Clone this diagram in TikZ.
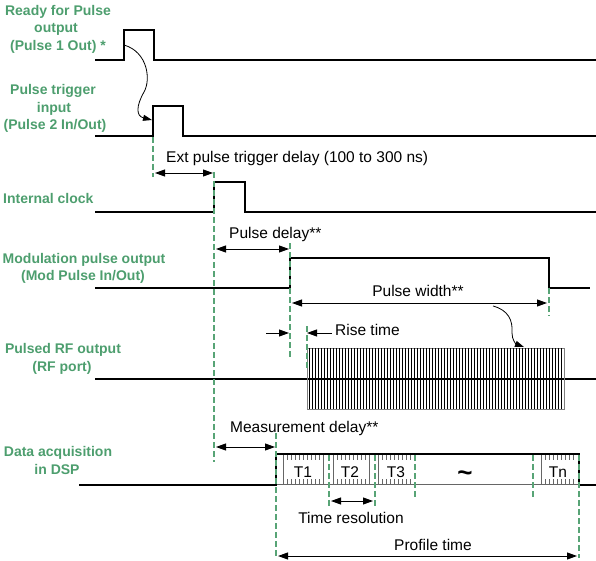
\documentclass[tikz,border=0pt]{standalone}
\usepackage{fontspec}
\setmainfont{Liberation Sans}
\usetikzlibrary{arrows.meta}
\definecolor{lblgreen}{RGB}{77,158,110}
\definecolor{dashgreen}{RGB}{88,164,118}
\tikzset{
  sig/.style={line width=2pt, line join=miter},
  gdash/.style={draw=dashgreen, line width=2.2pt, dash pattern=on 6pt off 3pt},
  dimline/.style={line width=0.9pt, {Triangle[length=10pt,width=7pt]}-{Triangle[length=10pt,width=7pt]}},
  onehead/.style={line width=0.9pt, -{Triangle[length=10pt,width=7pt]}},
  curvearrow/.style={line width=0.8pt, -{Triangle[length=9pt,width=6pt]}},
  glab/.style={anchor=base, text=lblgreen, font=\fontsize{14}{17}\selectfont\bfseries, inner sep=0pt},
  blab/.style={anchor=base west, font=\fontsize{15.5}{18}\selectfont, inner sep=0pt},
  bclab/.style={anchor=base, font=\fontsize{15.5}{18}\selectfont, inner sep=0pt},
  tick/.style={draw=gray!80!black, line width=0.8pt},
}
\begin{document}
\begin{tikzpicture}[x=1pt,y=-1pt]
\useasboundingbox (0,0) rectangle (596,561);

% ---- signals ----
\draw[sig] (95,60) -- (124,60) -- (124,30) -- (154,30) -- (154,60) -- (596,60);
\draw[sig] (95,136) -- (153,136) -- (153,106) -- (183,106) -- (183,136) -- (596,136);
\draw[sig] (95,212) -- (214,212) -- (214,182) -- (245,182) -- (245,212) -- (596,212);
\draw[sig] (95,288) -- (290,288) -- (290,258) -- (549,258) -- (549,288) -- (590,288);
\draw[sig] (95,379) -- (596,379);

% RF burst
\draw[gray, line width=1pt] (307,348) rectangle (564,409);
\foreach \x in {309.5,312.5,...,562} \draw[line width=1.6pt] (\x,348) -- (\x,409);

% DSP acquisition
\draw[tick] (276,484) -- (579,484);
\draw[sig] (79,485) -- (276,485) -- (276,454) -- (579,454) -- (579,485) -- (596,485);
\foreach \x in {283,323,333,369,378,541} \draw[tick] (\x,455) -- (\x,484);
\foreach \x in {287,291,...,320, 337,341,...,366, 382,386,...,411, 545,549,...,576}
  {\draw[tick] (\x,455) -- (\x,460); \draw[tick] (\x,479) -- (\x,484);}

% ---- green dashed markers ----
\draw[gdash] (153,137) -- (153,177);
\draw[gdash] (214,172) -- (214,462);
\draw[gdash] (290,243) -- (290,358);
\draw[gdash] (549,288) -- (549,316);
\draw[gdash] (307,326) -- (307,368);
\draw[gdash] (276,433) -- (276,558);
\draw[gdash] (329,455) -- (329,508);
\draw[gdash] (375,455) -- (375,508);
\draw[gdash] (415,455) -- (415,498);
\draw[gdash] (533,455) -- (533,498);
\draw[gdash] (579,455) -- (579,558);

% ---- coordinates for dimension arrows ----
\coordinate (ea) at (155,173); \coordinate (eb) at (213,173);
\coordinate (pda) at (216,249); \coordinate (pdb) at (289,249);
\coordinate (pwa) at (292,303); \coordinate (pwb) at (547,303);
\coordinate (rla) at (266,333); \coordinate (rlb) at (289,333);
\coordinate (rra) at (332,333); \coordinate (rrb) at (307,333);
\coordinate (mda) at (216,447); \coordinate (mdb) at (275,447);
\coordinate (tra) at (331,501); \coordinate (trb) at (373,501);
\coordinate (pta) at (278,556); \coordinate (ptb) at (577,556);
\coordinate (c1a) at (124,45); \coordinate (c1m) at (144,92); \coordinate (c1b) at (152,120);
\coordinate (c2a) at (493,306); \coordinate (c2m) at (512,333); \coordinate (c2b) at (524,347);

\draw[dimline] (ea) -- (eb);
\draw[dimline] (pda) -- (pdb);
\draw[dimline] (pwa) -- (pwb);
\draw[onehead] (rla) -- (rlb);
\draw[onehead] (rra) -- (rrb);
\draw[dimline] (mda) -- (mdb);
\draw[dimline] (tra) -- (trb);
\draw[dimline] (pta) -- (ptb);

\draw[curvearrow] (c1a) .. controls (148,52) and (151,80) .. (c1m) .. controls (136,106) and (136,116) .. (c1b);
\draw[curvearrow] (c2a) .. controls (508,310) and (513,320) .. (c2m) .. controls (512,340) and (516,344) .. (c2b);

% ---- black labels ----
\node[blab] (ext) at (166,163) {Ext pulse trigger delay (100 to 300 ns)};
\node[blab] (pdl) at (229,238) {Pulse delay**};
\node[bclab] (pwl) at (418,296) {Pulse width**};
\node[blab] (rtl) at (335,335) {Rise time};
\node[blab] (mdl) at (230,432) {Measurement delay**};
\node[bclab] (trl) at (351,523) {Time resolution};
\node[bclab] (ptl) at (433,550) {Profile time};
\node[bclab] (t1) at (303,477) {T1};
\node[bclab] (t2) at (350,477) {T2};
\node[bclab] (t3) at (396,477) {T3};
\node[bclab] (tn) at (558,477) {Tn};
\node[anchor=base, inner sep=0pt, font=\fontsize{26}{26}\selectfont\bfseries] (tl) at (465,481) {\textasciitilde};

% ---- green labels ----
\node[glab] (g1a) at (58,16) {Ready for Pulse};
\node[glab] (g1b) at (56,33) {output};
\node[glab] (g1c) at (58,51) {(Pulse 1 Out) *};
\node[glab] (g2a) at (53,95) {Pulse trigger};
\node[glab] (g2b) at (54,112.5) {input};
\node[glab] (g2c) at (55,130) {(Pulse 2 In/Out)};
\node[glab, anchor=base west] (g3) at (3,204) {Internal clock};
\node[glab] (g4a) at (84,263) {Modulation pulse output};
\node[glab] (g4b) at (83,280) {(Mod Pulse In/Out)};
\node[glab] (g5a) at (63,353) {Pulsed RF output};
\node[glab] (g5b) at (62,371) {(RF port)};
\node[glab] (g6a) at (58,456) {Data acquisition};
\node[glab] (g6b) at (57,474) {in DSP};
\end{tikzpicture}
\end{document}
